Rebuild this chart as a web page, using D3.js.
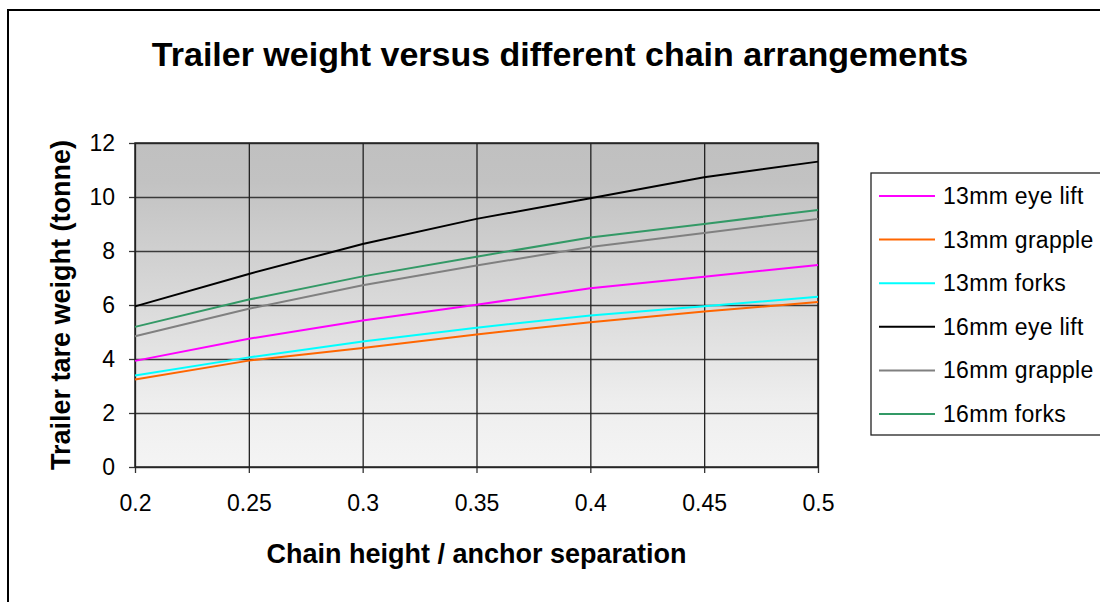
<!DOCTYPE html>
<html>
<head>
<meta charset="utf-8">
<script src="https://cdn.jsdelivr.net/npm/d3@7"></script>
<style>
  body { margin: 0; background: #fff; }
  svg { display: block; font-family: "Liberation Sans", Arial, sans-serif; }
</style>
</head>
<body>
<script>
var xValues = [0.2, 0.25, 0.3, 0.35, 0.4, 0.45, 0.5];
var yTicks = [0, 2, 4, 6, 8, 10, 12];
var seriesNames = ["13mm eye lift", "13mm grapple", "13mm forks", "16mm eye lift", "16mm grapple", "16mm forks"];
var seriesColors = ["#ff00ff", "#ff6600", "#00ffff", "#000000", "#808080", "#339966"];
var eyeLift13 = [3.93, 4.75, 5.43, 6.01, 6.62, 7.05, 7.48];
var grapple13 = [3.24, 3.94, 4.41, 4.91, 5.36, 5.76, 6.11];
var forks13 = [3.39, 4.06, 4.65, 5.16, 5.61, 5.95, 6.31];
var eyeLift16 = [5.95, 7.15, 8.26, 9.19, 9.95, 10.73, 11.31];
var grapple16 = [4.84, 5.86, 6.73, 7.46, 8.15, 8.67, 9.19];
var forks16 = [5.19, 6.2, 7.06, 7.79, 8.5, 9.0, 9.52];

var seriesValues = [eyeLift13, grapple13, forks13, eyeLift16, grapple16, forks16];

var svg = d3.select("body")
    .append("svg")
    .attr("width", 1100)
    .attr("height", 602);

var plot = {left: 135, right: 818, top: 143, bottom: 467};

var x = d3.scaleLinear().domain([0.2, 0.5]).range([plot.left, plot.right]);
var y = d3.scaleLinear().domain([0, 12]).range([plot.bottom, plot.top]);

// outer chart border (runs off the right and bottom edges)
svg.append("rect")
    .attr("x", 8).attr("y", 10)
    .attr("width", 1200).attr("height", 700)
    .attr("fill", "none")
    .attr("stroke", "#000")
    .attr("stroke-width", 2);

// plot background gradient
var grad = svg.append("defs").append("linearGradient")
    .attr("id", "bg")
    .attr("x1", 0).attr("y1", 0).attr("x2", 0).attr("y2", 1);
grad.append("stop").attr("offset", "0%").attr("stop-color", "#c0c0c0");
grad.append("stop").attr("offset", "12%").attr("stop-color", "#c2c2c2");
grad.append("stop").attr("offset", "50%").attr("stop-color", "#dadada");
grad.append("stop").attr("offset", "80%").attr("stop-color", "#eeeeee");
grad.append("stop").attr("offset", "100%").attr("stop-color", "#f4f4f4");

svg.append("rect")
    .attr("x", plot.left).attr("y", plot.top)
    .attr("width", plot.right - plot.left)
    .attr("height", plot.bottom - plot.top)
    .attr("fill", "url(#bg)");

// grid
svg.append("g")
    .attr("transform", "translate(" + plot.left + ",0)")
    .call(d3.axisLeft(y).tickValues(yTicks).tickSize(-(plot.right - plot.left)).tickFormat(""))
    .call(function(g) {
        g.select(".domain").remove();
        g.selectAll("line").attr("stroke", "#3a3a3a").attr("stroke-width", 1.3);
    });

svg.append("g")
    .attr("transform", "translate(0," + plot.bottom + ")")
    .call(d3.axisBottom(x).tickValues(xValues).tickSize(-(plot.bottom - plot.top)).tickFormat(""))
    .call(function(g) {
        g.select(".domain").remove();
        g.selectAll("line").attr("stroke", "#222").attr("stroke-width", 1.3);
    });

// axes
svg.append("g")
    .attr("transform", "translate(" + plot.left + ",0)")
    .call(d3.axisLeft(y).tickValues(yTicks).tickSize(6).tickPadding(14).tickFormat(d3.format("d")))
    .call(function(g) {
        g.select(".domain").remove();
        g.selectAll("line").attr("stroke", "#333").attr("stroke-width", 1.3);
        g.selectAll("text").attr("fill", "#000").style("font-size", "23px")
            .style("font-family", "Liberation Sans, Arial, sans-serif");
    });

svg.append("g")
    .attr("transform", "translate(0," + plot.bottom + ")")
    .call(d3.axisBottom(x).tickValues(xValues).tickSize(6).tickPadding(22).tickFormat(d3.format("")))
    .call(function(g) {
        g.select(".domain").remove();
        g.selectAll("line").attr("stroke", "#333").attr("stroke-width", 1.3);
        g.selectAll("text").attr("fill", "#000").style("font-size", "23px")
            .style("font-family", "Liberation Sans, Arial, sans-serif");
    });

// plot border
svg.append("rect")
    .attr("x", plot.left).attr("y", plot.top)
    .attr("width", plot.right - plot.left)
    .attr("height", plot.bottom - plot.top)
    .attr("fill", "none")
    .attr("stroke", "#222")
    .attr("stroke-width", 1.5);

// series lines
var line = d3.line()
    .x(function(d, i) { return x(xValues[i]); })
    .y(function(d) { return y(d); });

svg.selectAll(".series")
    .data(seriesValues)
    .enter()
    .append("path")
    .attr("class", "series")
    .attr("d", line)
    .attr("fill", "none")
    .attr("stroke", function(d, i) { return seriesColors[i]; })
    .attr("stroke-width", 2);

// legend
var legend = svg.append("g");
legend.append("rect")
    .attr("x", 871).attr("y", 173)
    .attr("width", 300).attr("height", 262)
    .attr("fill", "#fff")
    .attr("stroke", "#222")
    .attr("stroke-width", 1.3);

var items = legend.selectAll(".item")
    .data(seriesNames)
    .enter()
    .append("g")
    .attr("transform", function(d, i) { return "translate(0," + (196 + i * 43.6) + ")"; });

items.append("line")
    .attr("x1", 879).attr("x2", 935)
    .attr("stroke", function(d, i) { return seriesColors[i]; })
    .attr("stroke-width", 2);

items.append("text")
    .attr("x", 943)
    .attr("dy", "0.35em")
    .style("font-size", "23px")
    .style("letter-spacing", "0.3px")
    .text(function(d) { return d; });

// titles
svg.append("text")
    .attr("x", 560).attr("y", 66)
    .attr("text-anchor", "middle")
    .style("font-size", "34px")
    .style("font-weight", "bold")
    .text("Trailer weight versus different chain arrangements");

svg.append("text")
    .attr("x", (plot.left + plot.right) / 2).attr("y", 563)
    .attr("text-anchor", "middle")
    .style("font-size", "27px")
    .style("font-weight", "bold")
    .text("Chain height / anchor separation");

svg.append("text")
    .attr("transform", "translate(70," + ((plot.top + plot.bottom) / 2) + ") rotate(-90)")
    .attr("text-anchor", "middle")
    .style("font-size", "27px")
    .style("font-weight", "bold")
    .text("Trailer tare weight (tonne)");
</script>
</body>
</html>
